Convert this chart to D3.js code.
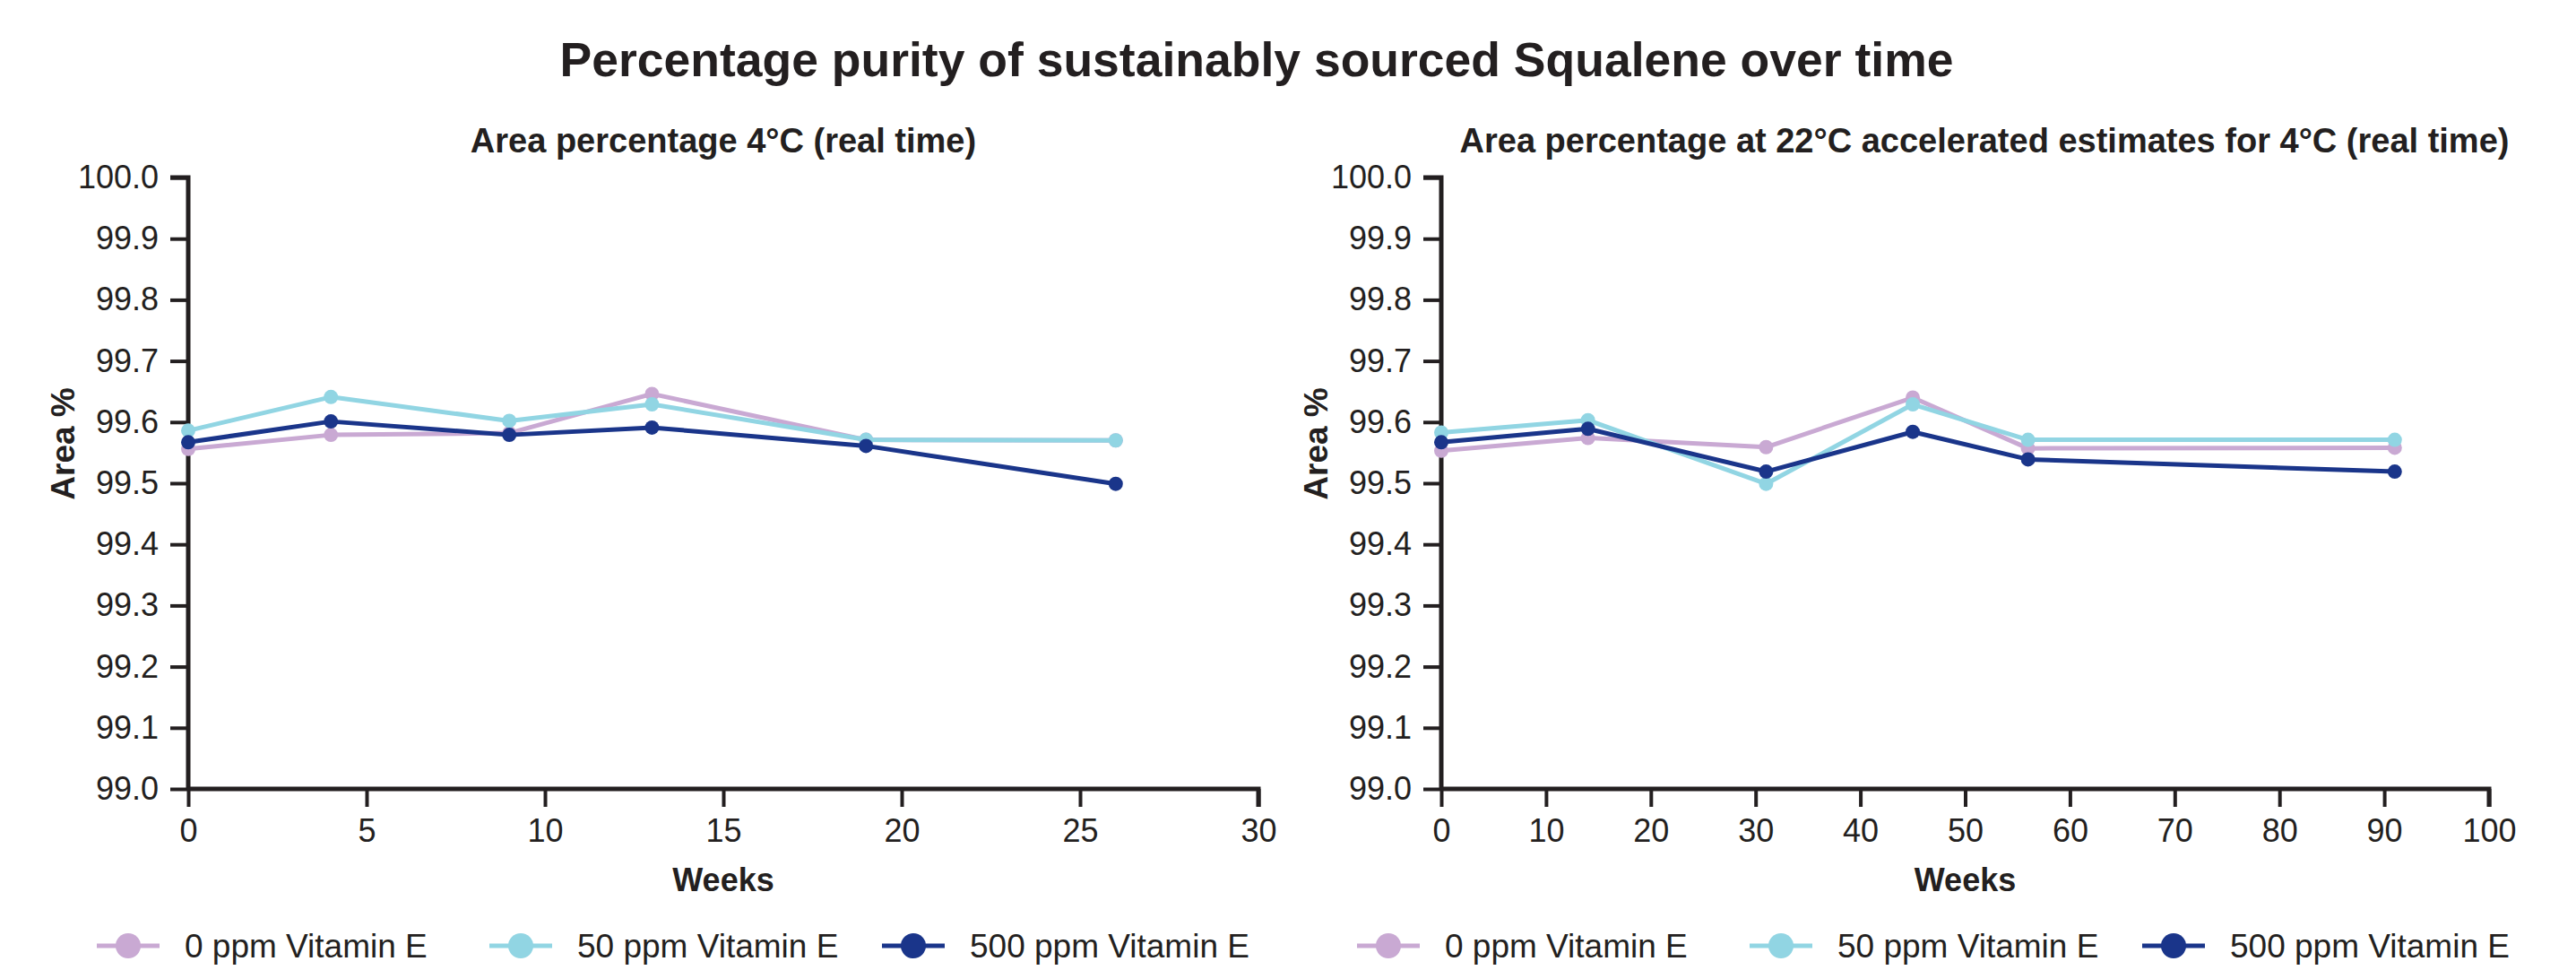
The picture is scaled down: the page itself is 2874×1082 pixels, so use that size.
<!DOCTYPE html>
<html>
<head>
<meta charset="utf-8">
<script src="https://cdn.jsdelivr.net/npm/d3@7"></script>
<style>
  body { margin: 0; background: #fff; }
  text { font-family: "Liberation Sans", Arial, Helvetica, sans-serif; fill: #231f20; }
</style>
</head>
<body>
<div id="chart"></div>
<script>
// series
const seriesNames = ["0 ppm Vitamin E", "50 ppm Vitamin E", "500 ppm Vitamin E"];
const seriesColors = ["#c9a9d3", "#91d5e3", "#1a358a"];

// 4°C real time
const realWeeks = [0, 4, 9, 13, 19, 26];
const real0 = [99.556, 99.579, 99.582, 99.646, 99.571, 99.570];
const real50 = [99.586, 99.641, 99.602, 99.629, 99.571, 99.570];
const real500 = [99.567, 99.601, 99.579, 99.591, 99.561, 99.499];

// 22°C accelerated
const accWeeks = [0, 14, 31, 45, 56, 91];
const acc0 = [99.553, 99.574, 99.559, 99.640, 99.557, 99.558];
const acc50 = [99.583, 99.603, 99.499, 99.629, 99.571, 99.571];
const acc500 = [99.567, 99.589, 99.519, 99.584, 99.539, 99.519];

// ticks
const yTickValues = [99.0, 99.1, 99.2, 99.3, 99.4, 99.5, 99.6, 99.7, 99.8, 99.9, 100.0];
const realXTicks = [0, 5, 10, 15, 20, 25, 30];
const accXTicks = [0, 10, 20, 30, 40, 50, 60, 70, 80, 90, 100];

const W = 2874, H = 1082;
const svg = d3.select('#chart').append('svg')
  .attr('width', W).attr('height', H)
  .attr('viewBox', [0, 0, W, H]);

svg.append('text')
  .attr('x', 1402).attr('y', 85)
  .attr('text-anchor', 'middle')
  .style('font-size', '53.5px').style('font-weight', 'bold')
  .text('Percentage purity of sustainably sourced Squalene over time');

const panels = [
  {title: 'Area percentage 4°C (real time)', titleX: 807, left: 210, right: 1404,
   weeks: realWeeks, series: [real0, real50, real500], xMax: 30, xTicks: realXTicks, legendX: 143},
  {title: 'Area percentage at 22°C accelerated estimates for 4°C (real time)', titleX: 2214, left: 1608, right: 2777,
   weeks: accWeeks, series: [acc0, acc50, acc500], xMax: 100, xTicks: accXTicks, legendX: 1549}
];

const plotTop = 198, plotBottom = 880;
const y = d3.scaleLinear().domain([99, 100]).range([plotBottom, plotTop]);

panels.forEach(p => {
  const x = d3.scaleLinear().domain([0, p.xMax]).range([p.left, p.right]);
  const g = svg.append('g');

  g.append('text')
    .attr('x', p.titleX).attr('y', 170)
    .attr('text-anchor', 'middle')
    .style('font-size', '38px').style('font-weight', 'bold')
    .text(p.title);

  // axes
  const yAxis = g.append('g')
    .attr('transform', `translate(${p.left},0)`)
    .call(d3.axisLeft(y).tickValues(yTickValues).tickFormat(d3.format('.1f')).tickSize(20).tickPadding(13));
  const xAxis = g.append('g')
    .attr('transform', `translate(0,${plotBottom})`)
    .call(d3.axisBottom(x).tickValues(p.xTicks).tickSize(20).tickPadding(13));
  [yAxis, xAxis].forEach(a => {
    a.select('.domain').attr('stroke', '#231f20').attr('stroke-width', 5);
    a.selectAll('.tick line').attr('stroke', '#231f20').attr('stroke-width', 4);
    a.selectAll('.tick text').style('font-size', '36px').attr('fill', '#231f20');
  });
  yAxis.select('.domain').attr('d', `M-20,${plotTop}H0V${plotBottom}`);
  xAxis.select('.domain').attr('d', `M${p.left},0H${p.right}V20`);

  g.append('text')
    .attr('transform', `translate(${p.left - 127},495) rotate(-90)`)
    .attr('text-anchor', 'middle')
    .style('font-size', '37px').style('font-weight', 'bold')
    .text('Area %');

  g.append('text')
    .attr('x', (p.left + p.right) / 2).attr('y', 994)
    .attr('text-anchor', 'middle')
    .style('font-size', '36px').style('font-weight', 'bold')
    .text('Weeks');

  // lines + markers
  const line = d3.line().x((d, i) => x(p.weeks[i])).y(d => y(d));
  p.series.forEach((vals, si) => {
    g.append('path')
      .datum(vals)
      .attr('d', line)
      .attr('fill', 'none')
      .attr('stroke', seriesColors[si])
      .attr('stroke-width', 5)
      .attr('stroke-linejoin', 'round');
    g.selectAll('.pt' + si)
      .data(vals)
      .join('circle')
      .attr('class', 'pt' + si)
      .attr('cx', (d, i) => x(p.weeks[i]))
      .attr('cy', d => y(d))
      .attr('r', 8)
      .attr('fill', seriesColors[si]);
  });

  // legend
  const leg = g.selectAll('.leg')
    .data(seriesNames)
    .join('g')
    .attr('class', 'leg')
    .attr('transform', (d, i) => `translate(${p.legendX + i * 438},1055)`);
  leg.append('line')
    .attr('x1', -35).attr('x2', 35)
    .attr('stroke', (d, i) => seriesColors[i])
    .attr('stroke-width', 5);
  leg.append('circle')
    .attr('r', 14)
    .attr('fill', (d, i) => seriesColors[i]);
  leg.append('text')
    .attr('x', 63).attr('dy', '0.35em')
    .style('font-size', '37px')
    .text(d => d);
});
</script>
</body>
</html>
